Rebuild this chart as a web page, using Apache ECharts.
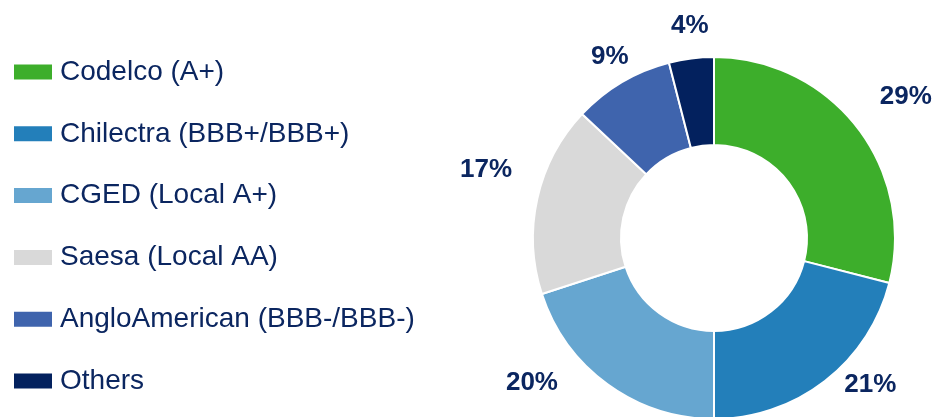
<!DOCTYPE html>
<html>
<head>
<meta charset="utf-8">
<script src="https://cdn.jsdelivr.net/npm/echarts@6/dist/echarts.min.js"></script>
<style>
  html, body { margin: 0; padding: 0; background: #fff; }
  #main { width: 939px; height: 417px; }
</style>
</head>
<body>
<div id="main"></div>
<script>
// issuer names (legend) and share in %
var names = ['Codelco (A+)', 'Chilectra (BBB+/BBB+)', 'CGED (Local A+)', 'Saesa (Local AA)', 'AngloAmerican (BBB-/BBB-)', 'Others'];
var shares = [29, 21, 20, 17, 9, 4];
var colors = ['#3DAE2B', '#237FBA', '#66A6D0', '#D9D9D9', '#3F64AD', '#03215E'];

var navy = '#0B2660';

// small manual nudges for the % labels (they were hand placed in the original)
var labelNudge = [[-6, -12], [-4, -20], [-27, -26], [9, -22], [27, 0], [26, -3]];

var chart = echarts.init(document.getElementById('main'));

var pieData = names.map(function (n, i) {
    return {
        name: n,
        value: shares[i],
        itemStyle: { color: colors[i] },
        label: { offset: labelNudge[i] }
    };
});

var option = {
    animation: false,
    color: colors,
    legend: {
        orient: 'vertical',
        left: 12,
        top: 58,
        padding: 0,
        itemWidth: 40,
        itemHeight: 17,
        itemGap: 33.8,
        icon: 'rect',
        selectedMode: false,
        data: names,
        textStyle: {
            fontFamily: 'Liberation Sans',
            fontSize: 28,
            color: navy,
            padding: [0, 0, 0, 2]
        }
    },
    series: [{
        type: 'pie',
        center: [714, 238],
        radius: [93, 181],
        startAngle: 90,
        clockwise: true,
        avoidLabelOverlap: false,
        itemStyle: { borderColor: '#fff', borderWidth: 2 },
        label: {
            show: true,
            position: 'outside',
            formatter: '{c}%',
            fontFamily: 'Liberation Sans',
            fontWeight: 'bold',
            fontSize: 26,
            color: navy
        },
        labelLine: { show: false, length: 30, length2: 0 },
        emphasis: { disabled: true },
        data: pieData
    }]
};

chart.setOption(option);
</script>
</body>
</html>
